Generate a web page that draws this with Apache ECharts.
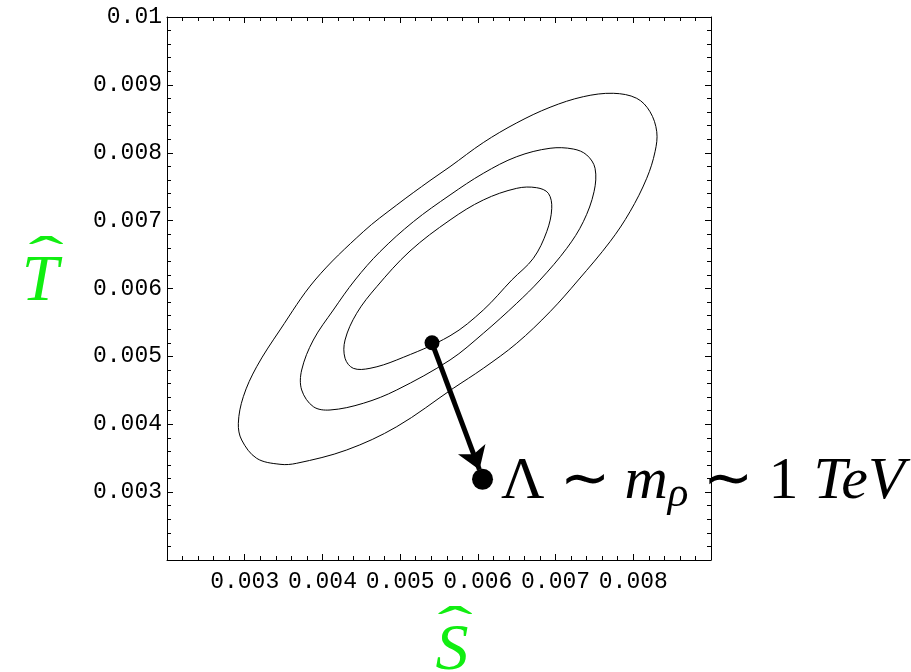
<!DOCTYPE html>
<html>
<head>
<meta charset="utf-8">
<script src="https://cdn.jsdelivr.net/npm/echarts@6/dist/echarts.min.js"></script>
<style>html,body{margin:0;padding:0;background:#fff;}#c{width:911px;height:672px;}</style>
</head>
<body>
<div id="c"></div>
<script>
// Tick labels
var xTickLabels = ['0.003','0.004','0.005','0.006','0.007','0.008'];
var yTickLabels = ['0.003','0.004','0.005','0.006','0.007','0.008','0.009','0.01'];

// Contours (S-hat, T-hat)
var outerEllipse = [[0.007743,0.008876],[0.008044,0.008802],[0.008215,0.008605],[0.008302,0.008310],[0.008280,0.008015],[0.008173,0.007624],[0.007958,0.007132],[0.007701,0.006690],[0.007293,0.006125],[0.006929,0.005658],[0.006500,0.005193],[0.006070,0.004824],[0.005684,0.004530],[0.004956,0.003964],[0.004312,0.003621],[0.003669,0.003425],[0.003454,0.003410],[0.003154,0.003498],[0.002961,0.003768],[0.002918,0.004014],[0.002982,0.004406],[0.003154,0.004848],[0.003454,0.005389],[0.003905,0.006125],[0.004526,0.006837],[0.004956,0.007230],[0.005384,0.007590],[0.005642,0.007795],[0.006070,0.008150],[0.006500,0.008440],[0.006929,0.008670],[0.007357,0.008826]];
var middleEllipse = [[0.006929,0.008066],[0.007228,0.008055],[0.007401,0.007967],[0.007508,0.007771],[0.007495,0.007426],[0.007357,0.006984],[0.007144,0.006592],[0.006800,0.006125],[0.006500,0.005782],[0.006070,0.005340],[0.005642,0.004947],[0.004956,0.004505],[0.004526,0.004309],[0.004098,0.004210],[0.003883,0.004259],[0.003733,0.004505],[0.003733,0.004799],[0.003883,0.005241],[0.004140,0.005683],[0.004419,0.006125],[0.004741,0.006542],[0.005170,0.006984],[0.005642,0.007378],[0.006070,0.007697],[0.006500,0.007942]];
var innerEllipse = [[0.006500,0.007476],[0.006757,0.007485],[0.006907,0.007403],[0.006951,0.007182],[0.006886,0.006837],[0.006714,0.006445],[0.006436,0.006125],[0.006070,0.005683],[0.005642,0.005303],[0.004956,0.004947],[0.004612,0.004824],[0.004397,0.004824],[0.004291,0.004972],[0.004291,0.005241],[0.004441,0.005635],[0.004699,0.006027],[0.005127,0.006552],[0.005642,0.007009],[0.006070,0.007304]];

// Points
var smPoint = [0.00541, 0.00520];
var heavyPoint = [0.00606, 0.00319];
var arrowTip = [0.00602, 0.00333];

var green = '#11ee11';
var tickFont = 'Liberation Mono';
var serif = '"Liberation Serif", serif';

function fmt(list) {
  return function (v) {
    var s = String(Number(v.toFixed(4)));
    return list.indexOf(s) >= 0 ? s : '';
  };
}

var axisCommon = {
  type: 'value',
  axisLine: { show: true, onZero: false, lineStyle: { color: '#000', width: 1 } },
  axisTick: { show: true, inside: true, length: 6, lineStyle: { color: '#000' } },
  minorTick: { show: true, splitNumber: 5, length: 4, lineStyle: { color: '#000' } },
  splitLine: { show: false },
  minorSplitLine: { show: false }
};

function contourSeries(points) {
  return {
    type: 'custom', z: 2, silent: true,
    data: [points[0]],
    renderItem: function (params, api) {
      return {
        type: 'polygon',
        shape: { points: points.map(function (p) { return api.coord(p); }), smooth: 0.35 },
        style: { fill: 'none', stroke: '#000', lineWidth: 1 }
      };
    }
  };
}

var chart = echarts.init(document.getElementById('c'));
chart.setOption({
  animation: false,
  backgroundColor: '#fff',
  grid: { left: 167, top: 17, width: 544, height: 543, containLabel: false },
  xAxis: [
    Object.assign({}, axisCommon, {
      position: 'bottom', min: 0.002, max: 0.009, interval: 0.001,
      axisLabel: { formatter: fmt(xTickLabels), fontFamily: tickFont, fontSize: 23, color: '#000', margin: 10 }
    }),
    Object.assign({}, axisCommon, {
      position: 'top', min: 0.002, max: 0.009, interval: 0.001,
      axisLabel: { show: false }
    })
  ],
  yAxis: [
    Object.assign({}, axisCommon, {
      position: 'left', min: 0.002, max: 0.01, interval: 0.001,
      axisLabel: { formatter: fmt(yTickLabels), fontFamily: tickFont, fontSize: 23, color: '#000', margin: 5 }
    }),
    Object.assign({}, axisCommon, {
      position: 'right', min: 0.002, max: 0.01, interval: 0.001,
      axisLabel: { show: false }
    })
  ],
  graphic: [
    { type: 'text', x: 40, y: 283, z: 10,
      style: { text: 'T', font: 'italic 66px ' + serif, fill: green, align: 'center', verticalAlign: 'middle' } },
    { type: 'text', x: 46, y: 259, scaleX: 1.6, scaleY: 0.8, z: 10,
      style: { text: '\u02C6', font: '66px ' + serif, fill: green, align: 'center', verticalAlign: 'middle' } },
    { type: 'text', x: 452, y: 652, z: 10,
      style: { text: 'S', font: 'italic 66px ' + serif, fill: green, align: 'center', verticalAlign: 'middle' } },
    { type: 'text', x: 455, y: 629, scaleX: 1.6, scaleY: 0.8, z: 10,
      style: { text: '\u02C6', font: '66px ' + serif, fill: green, align: 'center', verticalAlign: 'middle' } }
  ],
  series: [
    contourSeries(outerEllipse),
    contourSeries(middleEllipse),
    contourSeries(innerEllipse),
    {
      type: 'lines', coordinateSystem: 'cartesian2d', z: 3,
      symbol: ['none', 'arrow'], symbolSize: [0, 22],
      lineStyle: { color: '#000', width: 5, opacity: 1 },
      data: [{ coords: [smPoint, arrowTip] }]
    },
    {
      type: 'scatter', z: 4, symbol: 'circle', symbolSize: 15,
      itemStyle: { color: '#000', opacity: 1 },
      data: [smPoint]
    },
    {
      type: 'scatter', z: 4, symbol: 'circle', symbolSize: 21,
      itemStyle: { color: '#000', opacity: 1 },
      data: [heavyPoint],
      label: {
        show: true, position: 'right', distance: 8, offset: [0, 3], color: '#000',
        formatter: '{n|\u039B \u223C }{i|m}{s|\u03C1}{n| \u223C 1 }{i|TeV}',
        rich: {
          n: { fontFamily: serif, fontSize: 60, color: '#000' },
          i: { fontFamily: serif, fontSize: 60, fontStyle: 'italic', color: '#000' },
          s: { fontFamily: serif, fontSize: 43, fontStyle: 'italic', color: '#000', padding: [24, 0, 0, 0] }
        }
      }
    }
  ]
});
</script>
</body>
</html>
